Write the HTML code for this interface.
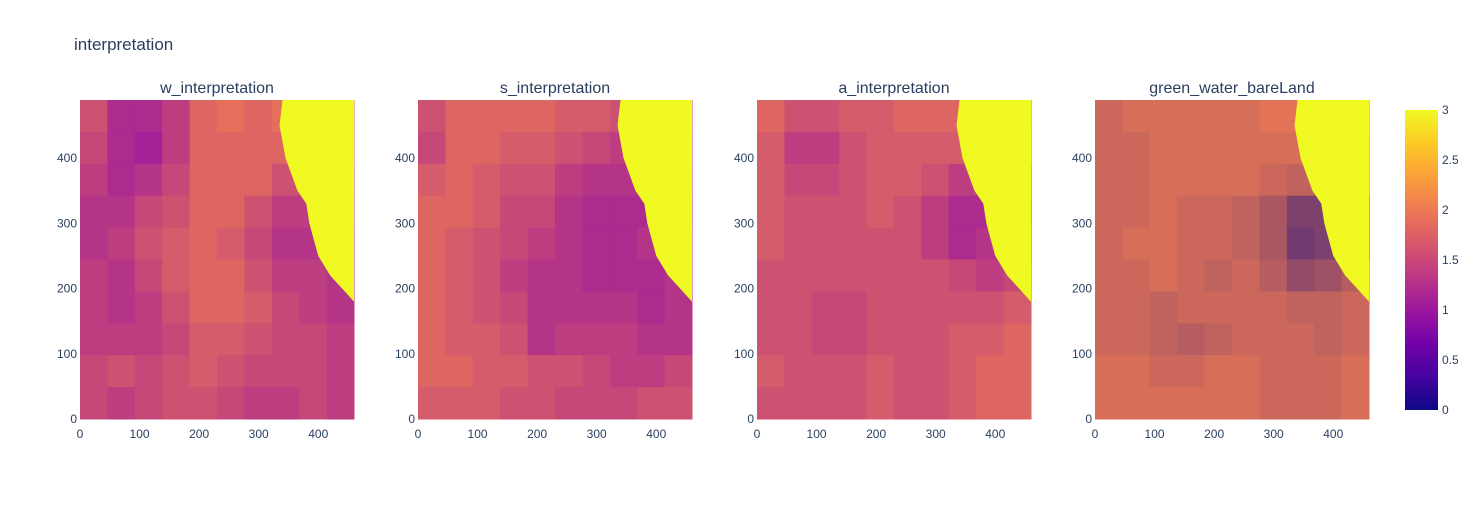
<!DOCTYPE html>
<html><head><meta charset="utf-8">
<style>
body{margin:0;background:#fff;font-family:"Liberation Sans",Arial,sans-serif;}
svg text{font-family:"Liberation Sans",Arial,sans-serif;fill:#2a3f5f;}
</style></head>
<body>
<svg id="chart" width="1474" height="500" xmlns="http://www.w3.org/2000/svg">
<rect width="1474" height="500" fill="#fff"/>
<text x="74" y="50" font-size="17">interpretation</text>
<defs>
<linearGradient id="plasma" x1="0" y1="1" x2="0" y2="0">
<stop offset="0" stop-color="#0d0887"/><stop offset="0.111" stop-color="#46039f"/>
<stop offset="0.222" stop-color="#7201a8"/><stop offset="0.333" stop-color="#9c179e"/>
<stop offset="0.444" stop-color="#bd3786"/><stop offset="0.556" stop-color="#d8576b"/>
<stop offset="0.667" stop-color="#ed7953"/><stop offset="0.778" stop-color="#fb9f3a"/>
<stop offset="0.889" stop-color="#fdca26"/><stop offset="1" stop-color="#f0f921"/>
</linearGradient>
</defs>
<g id="panels"></g>
<rect x="1405" y="110" width="33" height="300" fill="url(#plasma)"/>
<g id="cbticks"></g>
</svg>
<script>
const panelTitles=["w_interpretation","s_interpretation","a_interpretation","green_water_bareLand"];
const lowClass=[1,1,1,0];
const xTicks=[0,100,200,300,400];
const yTicks=[0,100,200,300,400];
const cbTicks=[0,0.5,1,1.5,2,2.5,3];
const shoreY=[489,450,400,350,330,300,250,220,200,185,180];
const shoreX=[340,335,345,365,380,385,400,420,440,455,460];
const gridW=[
[1.6,1.2,1.2,1.4,1.8,1.9,1.8,1.9,1.8,1.8],
[1.5,1.2,1.1,1.4,1.8,1.8,1.8,1.8,1.8,1.8],
[1.4,1.2,1.3,1.5,1.8,1.8,1.8,1.6,1.6,1.6],
[1.3,1.3,1.5,1.6,1.8,1.8,1.6,1.4,1.4,1.4],
[1.3,1.4,1.6,1.7,1.8,1.7,1.5,1.3,1.3,1.3],
[1.4,1.3,1.5,1.7,1.8,1.8,1.6,1.4,1.4,1.3],
[1.4,1.3,1.4,1.6,1.8,1.8,1.7,1.5,1.4,1.3],
[1.4,1.4,1.4,1.5,1.7,1.7,1.6,1.5,1.5,1.4],
[1.5,1.6,1.5,1.6,1.7,1.6,1.5,1.5,1.5,1.4],
[1.5,1.4,1.5,1.6,1.6,1.5,1.4,1.4,1.5,1.4]];
const gridS=[
[1.6,1.8,1.8,1.8,1.8,1.7,1.7,1.6,1.6,1.6],
[1.5,1.8,1.8,1.7,1.7,1.6,1.5,1.4,1.4,1.4],
[1.7,1.8,1.7,1.6,1.6,1.4,1.3,1.3,1.3,1.3],
[1.8,1.8,1.7,1.5,1.5,1.3,1.2,1.2,1.2,1.2],
[1.8,1.7,1.6,1.5,1.4,1.3,1.2,1.2,1.3,1.3],
[1.8,1.7,1.6,1.4,1.3,1.3,1.2,1.2,1.2,1.3],
[1.8,1.7,1.6,1.5,1.3,1.3,1.3,1.3,1.2,1.3],
[1.8,1.7,1.7,1.6,1.3,1.4,1.4,1.4,1.3,1.3],
[1.8,1.8,1.7,1.7,1.6,1.6,1.5,1.4,1.4,1.5],
[1.7,1.7,1.7,1.6,1.6,1.5,1.5,1.5,1.6,1.6]];
const gridA=[
[1.8,1.6,1.6,1.7,1.7,1.8,1.8,1.8,1.8,1.8],
[1.7,1.4,1.4,1.6,1.7,1.7,1.7,1.7,1.7,1.7],
[1.7,1.5,1.5,1.6,1.7,1.7,1.6,1.4,1.4,1.4],
[1.7,1.6,1.6,1.6,1.7,1.6,1.4,1.2,1.2,1.2],
[1.7,1.6,1.6,1.6,1.6,1.6,1.4,1.2,1.3,1.3],
[1.6,1.6,1.6,1.6,1.6,1.6,1.6,1.5,1.4,1.5],
[1.6,1.6,1.5,1.5,1.6,1.6,1.6,1.6,1.6,1.7],
[1.6,1.6,1.5,1.5,1.6,1.6,1.6,1.7,1.7,1.8],
[1.7,1.6,1.6,1.6,1.7,1.6,1.6,1.7,1.8,1.8],
[1.6,1.6,1.6,1.6,1.7,1.6,1.6,1.7,1.8,1.8]];
const gridG=[
[1.7,1.8,1.8,1.8,1.8,1.8,1.9,1.9,1.9,1.9],
[1.7,1.7,1.8,1.8,1.8,1.8,1.8,1.8,1.8,1.8],
[1.7,1.7,1.8,1.8,1.8,1.8,1.7,1.6,1.6,1.6],
[1.7,1.7,1.8,1.7,1.7,1.6,1.4,1.0,1.0,1.0],
[1.7,1.8,1.8,1.7,1.7,1.6,1.4,0.9,1.0,1.0],
[1.7,1.7,1.8,1.7,1.6,1.7,1.5,1.2,1.3,1.5],
[1.7,1.7,1.6,1.7,1.7,1.7,1.7,1.6,1.6,1.7],
[1.7,1.7,1.6,1.5,1.6,1.7,1.7,1.7,1.6,1.7],
[1.8,1.8,1.7,1.7,1.8,1.8,1.7,1.7,1.7,1.8],
[1.8,1.8,1.8,1.8,1.8,1.8,1.7,1.7,1.7,1.8]];
const grids=[gridW,gridS,gridA,gridG];

const NS="http://www.w3.org/2000/svg";
const panelX0=[80,418,757,1095];
const PW=274, PTOP=100, PBOT=419, XMAX=460, YMAX=489;
const classColor={0:[13,8,135],1:[156,23,158],2:[237,121,83],3:[240,249,33]};
function mix(v,low){
  const t=Math.max(0,Math.min(1,(v-low)/(2-low)));
  const a=classColor[low], b=classColor[2];
  return `rgb(${Math.round(a[0]+(b[0]-a[0])*t)},${Math.round(a[1]+(b[1]-a[1])*t)},${Math.round(a[2]+(b[2]-a[2])*t)})`;
}
function el(tag,attrs,parent){const e=document.createElementNS(NS,tag);for(const k in attrs)e.setAttribute(k,attrs[k]);parent.appendChild(e);return e;}
const root=document.getElementById('panels');
panelTitles.forEach((title,p)=>{
  const x0=panelX0[p];
  const xs=v=>x0+v/XMAX*PW;
  const ys=v=>PBOT-v/YMAX*(PBOT-PTOP);
  const g=el('g',{},root);
  
  
  const grid=grids[p];
  const nr=grid.length;
  grid.forEach((row,r)=>{
    const nc=row.length;
    row.forEach((v,c)=>{
      const xa=xs(c*XMAX/nc), xb=xs((c+1)*XMAX/nc);
      const yTop=ys(YMAX-r*YMAX/nr), yB=ys(YMAX-(r+1)*YMAX/nr);
      const rc=el('rect',{x:xa,y:yTop,width:xb-xa+0.5,height:yB-yTop+0.5,fill:mix(v,lowClass[p])},g);
      
      
    });
  });
  let pts=[];
  shoreY.forEach((yv,i)=>pts.push(xs(shoreX[i])+','+ys(yv)));
  pts.push(xs(XMAX)+','+ys(shoreY[shoreY.length-1]));
  pts.push(xs(XMAX)+','+ys(YMAX));
  const lake=el('polygon',{points:pts.join(' '),fill:'#f0f921'},g);
  
  
  const t=el('text',{x:x0+PW/2,y:93,'font-size':16,'text-anchor':'middle'},g);
  t.textContent=title;
  
  
  xTicks.forEach(v=>{
    const tt=el('text',{x:xs(v),y:438,'font-size':12,'text-anchor':'middle'},g);
    tt.textContent=v;
    
    
  });
  yTicks.forEach(v=>{
    const tt=el('text',{x:x0-3,y:ys(v)+4,'font-size':12,'text-anchor':'end'},g);
    tt.textContent=v;
    
    
  });
});
const cb=document.getElementById('cbticks');
cbTicks.forEach(v=>{
  const tt=el('text',{x:1442,y:410-v/3*300+4,'font-size':12},cb);
  tt.textContent=v;
  
  
});
</script>
</body></html>
